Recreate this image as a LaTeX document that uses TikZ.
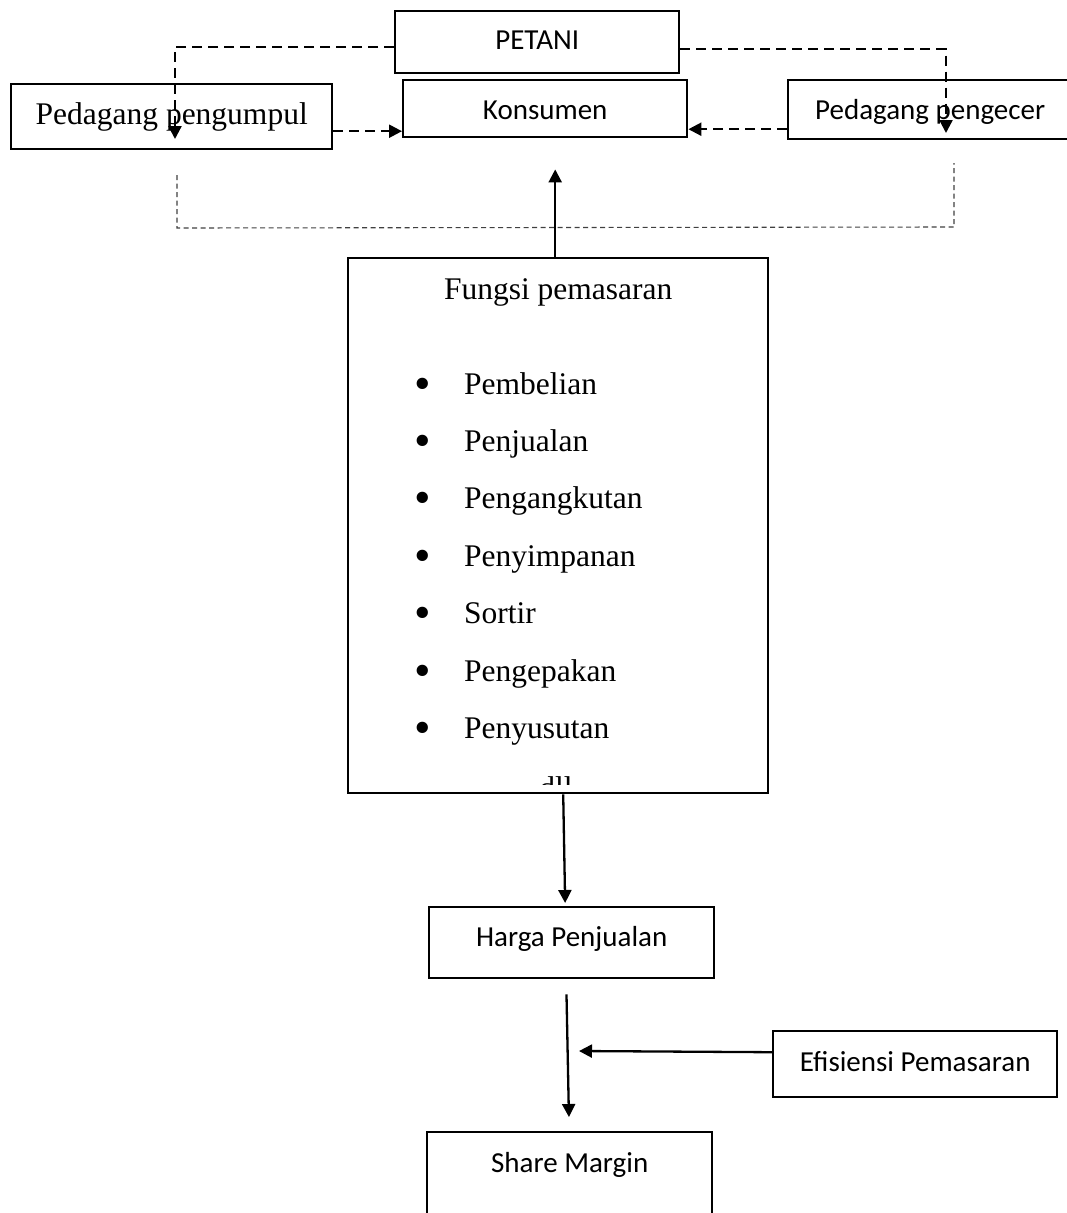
\documentclass[tikz,border=0pt]{standalone}
\usepackage{fontspec}
\setmainfont{Liberation Serif}
\newfontfamily\calibri{Carlito}
\usepackage{tikz}
\usetikzlibrary{positioning,arrows.meta}

\tikzset{
  box/.style={draw, line width=2.4pt, inner sep=0pt, anchor=north west},
  cal/.style={font=\calibri\fontsize{29}{34}\selectfont},
  tms/.style={font=\fontsize{31.5}{37}\selectfont},
  item/.style={tms, inner sep=0pt, anchor=base west},
  flow/.style={-{Triangle[length=13pt,width=13pt]}, line width=2.3pt},
  dflow/.style={flow, dash pattern=on 10pt off 6pt},
  guide/.style={line width=1.1pt, dash pattern=on 5pt off 3.5pt, black!75},
}
\newcommand{\bul}{\makebox[49.25pt][l]{\raisebox{-5pt}{\scalebox{1.5}{\textbullet}}}}

\begin{document}
\begin{tikzpicture}[x=1pt, y=-1pt]
  \useasboundingbox (0,0) rectangle (1067,1213);

  % top row
  \node[box, cal, minimum width=284pt, text height=38pt, text depth=24pt] (petani) at (394,10) {PETANI};
  \node[box, cal, minimum width=284pt, text height=39pt, text depth=18pt] (konsumen) at (402,79) {Konsumen};
  \node[box, tms, minimum width=321pt, text height=40pt, text depth=25pt] (pengumpul) at (10,83) {Pedagang pengumpul};
  \node[box, cal, minimum width=284pt, text height=39pt, text depth=20pt] (pengecer) at (787,79) {Pedagang pengecer};

  % fungsi pemasaran
  \node[box, tms, minimum width=420pt, text height=41pt, text depth=494pt] (fungsi) at (347,257) {Fungsi pemasaran};
  \node[item] (b1) at (414.75,394) {\bul Pembelian};
  \node[item, below=57.4pt of b1.base west, anchor=base west] (b2) {\bul Penjualan};
  \node[item, below=57.4pt of b2.base west, anchor=base west] (b3) {\bul Pengangkutan};
  \node[item, below=57.4pt of b3.base west, anchor=base west] (b4) {\bul Penyimpanan};
  \node[item, below=57.4pt of b4.base west, anchor=base west] (b5) {\bul Sortir};
  \node[item, below=57.4pt of b5.base west, anchor=base west] (b6) {\bul Pengepakan};
  \node[item, below=57.4pt of b6.base west, anchor=base west] (b7) {\bul Penyusutan};
  \begin{scope}
    \clip (347,257) rectangle (767,784);
    \node[tms, inner sep=0pt, anchor=base] (dll) at (556,798) {dll};
  \end{scope}

  % bottom
  \node[box, cal, minimum width=285pt, text height=39pt, text depth=32pt] (harga) at (428,906) {Harga Penjualan};
  \node[box, cal, minimum width=284pt, text height=40pt, text depth=26pt] (efisiensi) at (772,1030) {Efisiensi Pemasaran};
  \node[box, cal, minimum width=285pt, text height=40pt, text depth=60pt] (share) at (426,1131) {Share Margin};

  \coordinate (pgtip) at (175,139);
  \coordinate (pctip) at (946,133);
  \coordinate (effend) at (579,1051);
  \coordinate (gl) at (177,175);
  \coordinate (glb) at (177,228);
  \coordinate (grb) at (954,227);
  \coordinate (gr) at (954,163);

  \draw[dflow] ([yshift=-5pt]petani.west) -| (pgtip);
  \draw[dflow] ([yshift=-7pt]petani.east) -| (pctip);
  \draw[dflow] ([yshift=-14.5pt]pengumpul.east) -- ([yshift=-14.5pt]pengumpul.east -| konsumen.west);
  \draw[dflow] ([yshift=-19.5pt]pengecer.west) -- ([yshift=-19.5pt]pengecer.west -| konsumen.east);
  \draw[guide] (gl) -- (glb) -- (grb) -- (gr);

  \draw[flow, shorten >=31pt] ([xshift=-3pt]fungsi.north) -- ([xshift=10pt]konsumen.south);
  \draw[flow, shorten >=3pt] ([xshift=5pt]fungsi.south) -- ([xshift=-6.5pt]harga.north);
  \draw[flow, shorten <=15pt, shorten >=14pt] ([xshift=-5.5pt]harga.south) -- ([xshift=-0.5pt]share.north);
  \draw[flow] ([yshift=12pt]efisiensi.west) -- (effend);
\end{tikzpicture}
\end{document}
